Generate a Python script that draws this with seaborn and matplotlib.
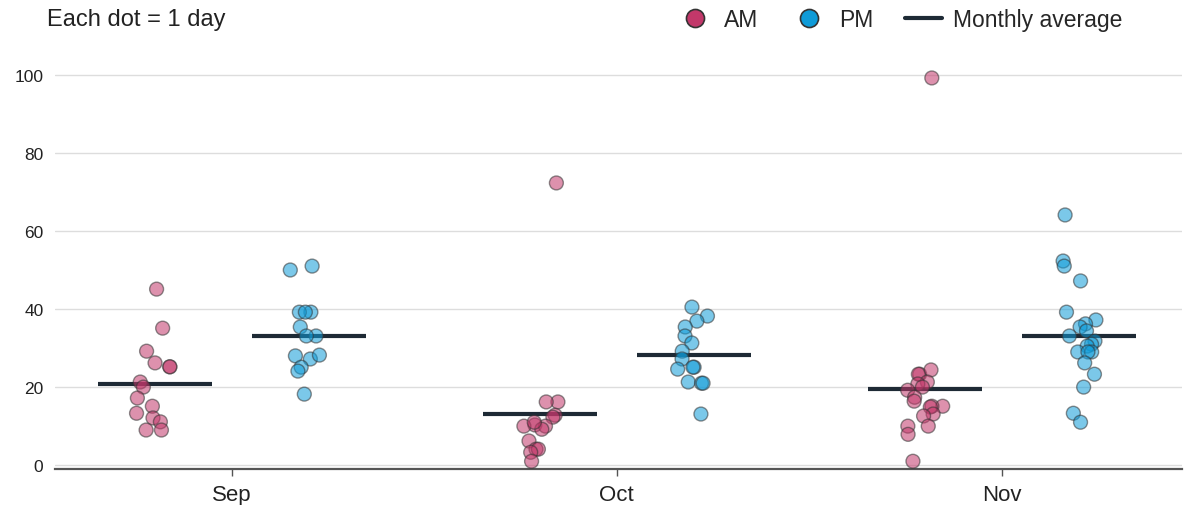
import numpy as np
import pandas as pd
import seaborn as sns
from matplotlib import pyplot as plt
from matplotlib.lines import Line2D

# valores (1 ponto = 1 dia)
months = ["Sep", "Oct", "Nov"]
sep_am = [45.1, 35.1, 29.2, 26.2, 25.2, 25.2, 21.3, 20.0, 17.2, 15.1, 13.3, 12.1, 11.1, 9.0, 9.0]
sep_pm = [51.0, 50.0, 39.2, 39.2, 39.2, 35.4, 33.1, 33.1, 28.0, 27.2, 28.2, 25.1, 24.1, 18.2]
oct_am = [72.3, 16.2, 16.2, 12.8, 12.3, 10.3, 10.0, 10.0, 9.2, 11.0, 6.2, 4.1, 4.1, 3.3, 1.0]
oct_pm = [40.5, 38.2, 36.9, 35.4, 33.1, 31.3, 29.2, 27.2, 25.1, 24.6, 25.1, 21.3, 21.0, 21.0, 13.1]
nov_am = [99.2, 23.3, 24.4, 23.3, 21.3, 20.8, 20.0, 19.2, 17.4, 15.1, 16.4, 15.1, 14.9,
          13.1, 12.6, 10.0, 10.0, 7.9, 1.0]
nov_pm = [64.1, 52.3, 51.0, 47.2, 39.2, 37.2, 36.2, 35.4, 34.4, 33.1, 31.8, 31.0, 30.5,
          29.0, 29.0, 29.0, 26.2, 23.3, 20.0, 13.3, 11.0]
avg_am = [20.8, 13.1, 19.5]
avg_pm = [33.1, 28.2, 33.1]

am_color = "#c2386a"
pm_color = "#0f9bd8"

rows = []
for m, am, pm in zip(months, [sep_am, oct_am, nov_am], [sep_pm, oct_pm, nov_pm]):
    rows += [(m, "AM", v) for v in am]
    rows += [(m, "PM", v) for v in pm]
df = pd.DataFrame(rows, columns=["month", "period", "value"])

avg = pd.DataFrame({
    "month": months * 2,
    "period": ["AM"] * 3 + ["PM"] * 3,
    "value": avg_am + avg_pm,
})

sns.set_style("white")
plt.rcParams["font.family"] = ["Liberation Sans", "DejaVu Sans"]

fig = plt.figure(figsize=(11.86, 5.06), dpi=100)
ax = fig.add_axes([0.046, 0.071, 0.951, 0.81])

np.random.seed(3)
sns.stripplot(data=df, x="month", y="value", hue="period", order=months,
              hue_order=["AM", "PM"], palette=[am_color, pm_color],
              dodge=True, jitter=0.1, size=10, alpha=0.55,
              edgecolor="#333333", linewidth=1, legend=False, ax=ax)

sns.pointplot(data=avg, x="month", y="value", hue="period", order=months,
              hue_order=["AM", "PM"], palette=["#1e2a35", "#1e2a35"],
              dodge=0.4, markers="_", markersize=82, markeredgewidth=3,
              linestyle="none", errorbar=None, legend=False, ax=ax)

ax.set_ylim(-1, 104)
ax.set_xlim(-0.46, 2.47)
ax.set_yticks([0, 20, 40, 60, 80, 100])
ax.yaxis.grid(True, color="#dddddd", linewidth=1)
ax.set_axisbelow(True)
ax.set_xlabel("")
ax.set_ylabel("")
ax.tick_params(axis="y", labelsize=12.5, length=0, pad=8, labelcolor="#222222")
ax.tick_params(axis="x", labelsize=16, length=5, width=1, color="#555555",
               bottom=True, pad=6, labelcolor="#222222")
for s in ["left", "right", "top"]:
    ax.spines[s].set_visible(False)
ax.spines["bottom"].set_color("#555555")
ax.spines["bottom"].set_linewidth(1.6)

fig.text(0.04, 0.96, "Each dot = 1 day", fontsize=17, va="center", ha="left", color="#222222")

handles = [
    Line2D([], [], marker="o", linestyle="none", markersize=13, markerfacecolor=am_color,
           markeredgecolor="#333333", markeredgewidth=1.2, label="AM"),
    Line2D([], [], marker="o", linestyle="none", markersize=13, markerfacecolor=pm_color,
           markeredgecolor="#333333", markeredgewidth=1.2, label="PM"),
    Line2D([], [], color="#1e2a35", linewidth=3, label="Monthly average"),
]
fig.legend(handles=handles, loc="center right", bbox_to_anchor=(0.964, 0.96), ncol=3,
           frameon=False, fontsize=16.5, handlelength=1.6, columnspacing=1.4, handletextpad=0.5)

fig.savefig("out.png", dpi=100)
